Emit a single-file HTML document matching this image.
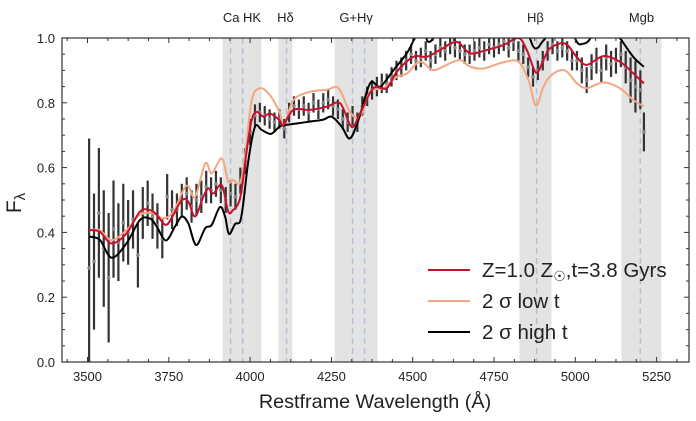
<!DOCTYPE html>
<html><head><meta charset="utf-8">
<style>
html,body{margin:0;padding:0;background:#fff;}
svg{display:block;font-family:"Liberation Sans",sans-serif;}
</style></head>
<body>
<svg id="chart" width="696" height="421" viewBox="0 0 696 421">
<text x="375" y="408" text-anchor="middle" font-size="19.8" fill="#222">Restframe Wavelength (Å)</text>
<text x="21" y="203" text-anchor="middle" font-size="21" fill="#222" transform="rotate(-90 21 203)">F<tspan font-size="15" dy="4">λ</tspan></text>
<g>
<line x1="428" x2="470" y1="270" y2="270" stroke="#c8102e" stroke-width="2"/>
<text x="482" y="277" font-size="20.5" fill="#222">Z=1.0 Z<tspan font-size="14" dy="4">☉</tspan><tspan dy="-4">,t=3.8 Gyrs</tspan></text>
<line x1="428" x2="470" y1="301" y2="301" stroke="#f4a582" stroke-width="2"/>
<text x="482" y="308" font-size="20.5" fill="#222">2 σ low t</text>
<line x1="428" x2="470" y1="332" y2="332" stroke="#000" stroke-width="2"/>
<text x="482" y="339" font-size="20.5" fill="#222">2 σ high t</text>
</g>
</svg>
<script>
const xTicks=[3500,3750,4000,4250,4500,4750,5000,5250];
const yTicks=[0.0,0.2,0.4,0.6,0.8,1.0];
const bandStart=[3915,4087,4260,4828,5142];
const bandEnd=[4035,4130,4392,4927,5265];
const bandLabels=["Ca HK","Hδ","G+Hγ","Hβ","Mgb"];
const lineLam=[3940,3977,4112,4315,4352,4881,5200];
const redLam=[3505,3538,3574,3620,3661,3692,3713,3741,3764,3790,3810,3831,3856,3872,3887,3913,3933,3948,3964,3974,3990,4005,4020,4041,4061,4090,4102,4133,4184,4236,4277,4312,4338,4379,4420,4451,4502,4543,4584,4635,4676,4728,4779,4825,4851,4879,4902,4922,4968,5004,5035,5086,5137,5178,5211];
const redF=[0.407,0.402,0.366,0.397,0.464,0.469,0.454,0.423,0.454,0.5,0.495,0.449,0.51,0.536,0.52,0.546,0.464,0.469,0.49,0.531,0.654,0.747,0.772,0.757,0.767,0.747,0.731,0.778,0.778,0.788,0.798,0.726,0.767,0.845,0.845,0.896,0.942,0.942,0.963,0.988,0.953,0.963,0.978,1.0,0.963,0.893,0.932,0.968,0.983,0.942,0.917,0.944,0.927,0.891,0.86];
const lowLam=[3505,3538,3574,3620,3661,3702,3733,3764,3795,3810,3831,3862,3882,3913,3933,3948,3969,3984,4005,4031,4061,4090,4104,4133,4184,4236,4272,4307,4338,4369,4410,4451,4482,4522,4563,4604,4645,4676,4717,4779,4825,4856,4879,4902,4927,4968,5004,5035,5086,5137,5178,5211];
const lowF=[0.407,0.407,0.376,0.407,0.454,0.459,0.443,0.464,0.531,0.543,0.51,0.613,0.582,0.628,0.556,0.562,0.552,0.633,0.808,0.845,0.824,0.772,0.731,0.808,0.834,0.84,0.845,0.772,0.757,0.834,0.845,0.88,0.89,0.927,0.901,0.917,0.932,0.912,0.906,0.925,0.927,0.87,0.791,0.849,0.886,0.9,0.861,0.845,0.863,0.845,0.809,0.789];
const highLam=[3505,3538,3574,3620,3661,3692,3713,3741,3769,3790,3810,3834,3862,3882,3907,3923,3935,3954,3969,3979,3995,4015,4036,4064,4090,4107,4143,4184,4225,4251,4282,4307,4333,4369,4400,4441,4482,4507,4530,4548,4574,4620,4700,4780,4840,4870,4885,4900,4940,4980,5007,5022,5040,5070,5110,5137,5178,5211];
const highF=[0.387,0.377,0.322,0.366,0.438,0.443,0.418,0.375,0.418,0.449,0.428,0.361,0.413,0.423,0.478,0.449,0.395,0.426,0.433,0.49,0.624,0.726,0.716,0.704,0.726,0.731,0.736,0.742,0.748,0.757,0.726,0.69,0.747,0.86,0.85,0.901,0.953,1.0,1.03,0.988,1.01,1.05,1.05,1.05,1.04,0.975,0.97,0.99,1.03,1.03,0.985,0.982,0.99,1.03,1.03,1.0,0.942,0.911];
const obsLam=[3505,3520,3535,3550,3565,3580,3595,3610,3625,3640,3655,3670,3685,3700,3715,3730,3745,3760,3775,3790,3805,3820,3835,3850,3865,3880,3895,3910,3925,3940,3955,3970,3985,4000,4015,4030,4045,4060,4075,4090,4105,4120,4135,4150,4165,4180,4195,4210,4225,4240,4255,4270,4285,4300,4315,4330,4345,4360,4375,4390,4405,4420,4435,4450,4465,4480,4495,4510,4525,4540,4555,4570,4585,4600,4615,4630,4645,4660,4675,4690,4705,4720,4735,4750,4765,4780,4795,4810,4825,4840,4855,4870,4885,4900,4915,4930,4945,4960,4975,4990,5005,5020,5035,5050,5065,5080,5095,5110,5125,5140,5155,5170,5185,5200,5211];
const obsF=[0.29,0.31,0.46,0.35,0.26,0.41,0.37,0.43,0.40,0.44,0.33,0.46,0.49,0.45,0.42,0.38,0.51,0.47,0.47,0.50,0.52,0.48,0.50,0.51,0.54,0.53,0.55,0.53,0.50,0.52,0.51,0.56,0.62,0.71,0.76,0.77,0.76,0.75,0.74,0.75,0.72,0.77,0.79,0.78,0.79,0.77,0.80,0.78,0.80,0.81,0.79,0.78,0.75,0.74,0.76,0.74,0.79,0.82,0.84,0.85,0.86,0.86,0.88,0.90,0.91,0.93,0.95,0.93,0.94,0.96,0.93,0.95,0.97,0.96,0.98,0.97,0.96,0.95,0.95,0.96,0.97,0.96,0.98,0.97,0.98,0.99,0.97,0.99,0.96,0.95,0.91,0.88,0.90,0.93,0.96,0.98,0.96,0.97,0.96,0.93,0.93,0.90,0.87,0.91,0.93,0.90,0.94,0.92,0.93,0.95,0.91,0.87,0.85,0.84,0.71];
const obsErr=[0.40,0.21,0.20,0.18,0.20,0.15,0.12,0.12,0.10,0.09,0.10,0.08,0.07,0.07,0.07,0.06,0.07,0.06,0.05,0.05,0.05,0.05,0.05,0.05,0.05,0.04,0.04,0.04,0.04,0.04,0.04,0.04,0.04,0.04,0.035,0.03,0.03,0.03,0.03,0.03,0.03,0.03,0.03,0.03,0.03,0.03,0.03,0.03,0.03,0.03,0.03,0.03,0.03,0.03,0.03,0.03,0.03,0.03,0.03,0.03,0.03,0.03,0.03,0.03,0.03,0.03,0.03,0.03,0.03,0.03,0.03,0.03,0.03,0.03,0.03,0.03,0.03,0.03,0.03,0.03,0.03,0.03,0.03,0.03,0.03,0.03,0.03,0.03,0.03,0.03,0.03,0.03,0.03,0.03,0.03,0.03,0.03,0.03,0.03,0.03,0.03,0.04,0.04,0.04,0.04,0.04,0.04,0.04,0.04,0.04,0.05,0.07,0.08,0.06,0.06];

const NS='http://www.w3.org/2000/svg';
const svg=document.getElementById('chart');
const L=62,R=689,T=38,B=362;
const xs=v=>87.5+(v-3500)*0.3252;
const ys=v=>B-v*(B-T);
function mk(tag,attrs,parent){const e=document.createElementNS(NS,tag);for(const k in attrs)e.setAttribute(k,attrs[k]);parent.appendChild(e);return e;}
const layer=document.createElementNS(NS,'g');
svg.insertBefore(layer,svg.firstChild);
const defs=mk('defs',{},layer);
const cp=mk('clipPath',{id:'plotclip'},defs);
mk('rect',{x:L,y:T,width:R-L,height:B-T},cp);
const plot=mk('g',{'clip-path':'url(#plotclip)'},layer);



for(let i=0;i<bandStart.length;i++){
  const r=mk('rect',{x:xs(bandStart[i]),y:T,width:xs(bandEnd[i])-xs(bandStart[i]),height:B-T,fill:'#e3e3e3'},plot);
  
  
  const t=mk('text',{x:(xs(bandStart[i])+xs(bandEnd[i]))/2,y:22,'text-anchor':'middle','font-size':13,fill:'#222'},layer);
  t.textContent=bandLabels[i];
  
  
}
for(let i=0;i<lineLam.length;i++){
  const l=mk('line',{x1:xs(lineLam[i]),x2:xs(lineLam[i]),y1:T,y2:B,stroke:'#b4c2d8','stroke-width':1.5,'stroke-dasharray':'6,4'},plot);
  
  
}
for(let i=0;i<obsLam.length;i++){
  const x=xs(obsLam[i]);
  const b=mk('line',{x1:x,x2:x,y1:ys(obsF[i]+obsErr[i]),y2:ys(obsF[i]-obsErr[i]),stroke:'#333','stroke-width':2.2},plot);
  
  
  const c=mk('circle',{cx:x,cy:ys(obsF[i]),r:1.8,fill:'#888'},plot);
  
  
}
function path(lam,f,color,name){
  const P=lam.map((l,i)=>[xs(l),ys(f[i])]);
  let d='M'+P[0][0].toFixed(1)+','+P[0][1].toFixed(1);
  for(let i=0;i<P.length-1;i++){
    const p0=P[Math.max(0,i-1)],p1=P[i],p2=P[i+1],p3=P[Math.min(P.length-1,i+2)];
    const c1=[p1[0]+(p2[0]-p0[0])/6,p1[1]+(p2[1]-p0[1])/6];
    const c2=[p2[0]-(p3[0]-p1[0])/6,p2[1]-(p3[1]-p1[1])/6];
    d+='C'+c1[0].toFixed(1)+','+c1[1].toFixed(1)+' '+c2[0].toFixed(1)+','+c2[1].toFixed(1)+' '+p2[0].toFixed(1)+','+p2[1].toFixed(1);
  }
  const p=mk('path',{d:d,fill:'none',stroke:color,'stroke-width':2,'stroke-linejoin':'round'},plot);
  
  
}
path(lowLam,lowF,'#f4a582','model-low-t');
path(highLam,highF,'#000','model-high-t');
path(redLam,redF,'#c8102e','model-best');

const fr=mk('rect',{x:L,y:T,width:R-L,height:B-T,fill:'none',stroke:'#333','stroke-width':1.2},layer);


for(let v=3437.5;v<=5350;v+=62.5){
  const x=xs(v);if(x<L||x>R)continue;
  const major=Math.abs((v-3500)%250)<0.01;
  const len=major?5:3;
  mk('line',{x1:x,x2:x,y1:B,y2:B-len,stroke:'#333','stroke-width':1},layer);
  mk('line',{x1:x,x2:x,y1:T,y2:T+len,stroke:'#333','stroke-width':1},layer);
}
for(let k=0;k<=20;k++){
  const y=ys(k*0.05);const len=(k%4===0)?5:3;
  mk('line',{x1:L,x2:L+len,y1:y,y2:y,stroke:'#333','stroke-width':1},layer);
  mk('line',{x1:R,x2:R-len,y1:y,y2:y,stroke:'#333','stroke-width':1},layer);
}
xTicks.forEach(v=>{
  const t=mk('text',{x:xs(v),y:381,'text-anchor':'middle','font-size':13,fill:'#222'},layer);
  t.textContent=v;
  
  
});
yTicks.forEach(v=>{
  const t=mk('text',{x:55,y:ys(v)+5,'text-anchor':'end','font-size':13,fill:'#222'},layer);
  t.textContent=v.toFixed(1);
  
  
});
</script>
</body></html>
